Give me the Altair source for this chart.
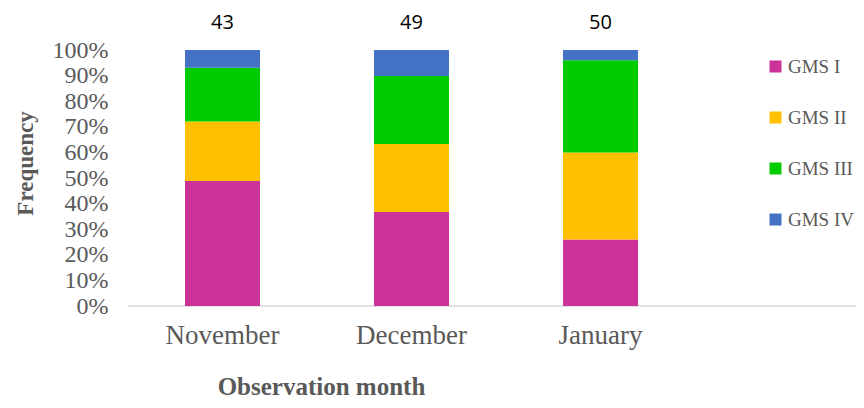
import altair as alt
import pandas as pd

months = ["November", "December", "January"]
grades = ["GMS I", "GMS II", "GMS III", "GMS IV"]
gms1 = [21, 18, 13]
gms2 = [10, 13, 17]
gms3 = [9, 13, 18]
gms4 = [3, 5, 2]
totals = [43, 49, 50]
ytick_values = [0, 0.1, 0.2, 0.3, 0.4, 0.5, 0.6, 0.7, 0.8, 0.9, 1.0]
colors = ["#CC3399", "#FFC000", "#00CC00", "#4472C4"]

rows = []
for gi, (g, vals) in enumerate(zip(grades, [gms1, gms2, gms3, gms4])):
    for m, v in zip(months, vals):
        rows.append({"month": m, "grade": g, "count": v, "ord": gi})
df = pd.DataFrame(rows)
tdf = pd.DataFrame({"month": months, "total": totals})

serif = "Liberation Serif"
gray = "#595959"

xscale = alt.Scale(domain=months, paddingInner=0, paddingOuter=0)
yscale = alt.Scale(domain=[0, 1])

xaxis = alt.Axis(title="Observation month", labelAngle=0, ticks=False, domain=False,
                 labelFont=serif, labelFontSize=27, labelColor=gray, labelPadding=16,
                 titleFont=serif, titleFontSize=25, titleFontWeight="bold", titleColor=gray,
                 titleX=193, titleY=80, titleBaseline="middle", titleAlign="center")
yaxis = alt.Axis(title="Frequency", format="%", values=ytick_values,
                 ticks=False, domain=False, grid=False, labelOverlap=False,
                 labelFont=serif, labelFontSize=24, labelColor=gray, labelPadding=20,
                 titleFont=serif, titleFontSize=23, titleFontWeight="bold", titleColor=gray,
                 titleX=-103, titleY=113, titleBaseline="middle", titleAlign="center")

bars = alt.Chart(df).mark_bar(size=75).encode(
    x=alt.X("month:N", sort=months, scale=xscale, axis=xaxis),
    y=alt.Y("count:Q", stack="normalize", scale=yscale, axis=yaxis),
    color=alt.Color("grade:N", scale=alt.Scale(domain=grades, range=colors),
                    legend=alt.Legend(title=None, orient="none", legendX=638, legendY=7,
                                      symbolType="square", symbolSize=144, symbolStrokeWidth=0,
                                      labelFont=serif, labelFontSize=19, labelColor=gray,
                                      rowPadding=31, padding=0, labelOffset=3)),
    order=alt.Order("ord:Q", sort="ascending"),
)

labels = alt.Chart(tdf).mark_text(font="Open Sans", fontSize=20, color="#000000", dy=-27,
                                  baseline="middle").encode(
    x=alt.X("month:N", sort=months, scale=xscale, axis=xaxis),
    y=alt.YDatum(1, type="quantitative", scale=yscale, axis=yaxis),
    text="total:Q",
)

baseline = alt.Chart(alt.Data(values=[{}])).mark_rule(color="#D9D9D9", strokeWidth=1.5).encode(
    x=alt.value(0), x2=alt.value(740), y=alt.value(256)
)

chart = alt.layer(baseline, bars, labels).properties(
    width=567, height=256,
    background="white",
    autosize=alt.AutoSizeParams(type="none"),
    padding={"left": 120, "top": 42, "right": 161, "bottom": 94},
).configure_view(strokeWidth=0, stroke=None)

chart.save("out.html", embed_options={"renderer": "svg", "actions": False})
